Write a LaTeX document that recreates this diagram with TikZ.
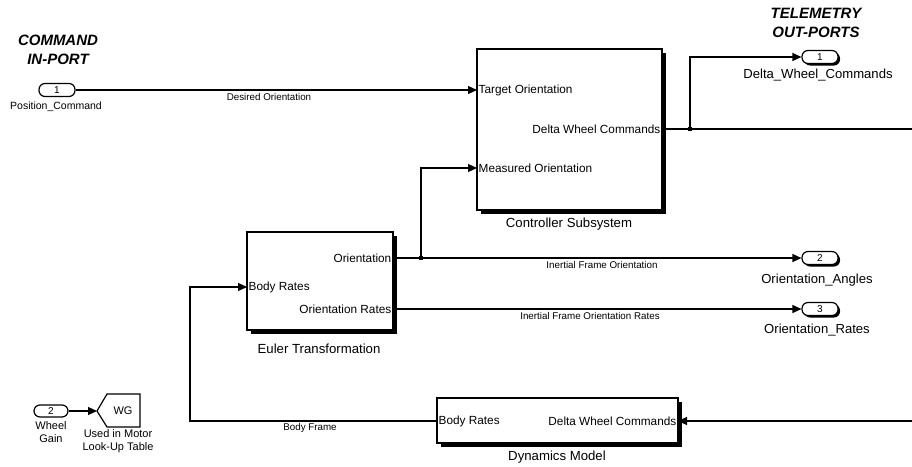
\documentclass[tikz,border=0pt]{standalone}
\usepackage{fontspec}
\setmainfont{Liberation Sans}
\usetikzlibrary{arrows.meta,shadows,positioning}

\begin{document}
\begin{tikzpicture}[x=1pt,y=-1pt,
		block/.style={draw,line width=1.2pt,fill=white,inner sep=0pt,
			drop shadow={shadow xshift=4pt,shadow yshift=-4pt,fill=black,opacity=1}},
		port/.style={draw,line width=1.2pt,fill=white,rounded corners=6pt,minimum width=36pt,minimum height=13pt,inner sep=0pt,font=\fontsize{10}{11}\selectfont},
		outport/.style={port,drop shadow={shadow xshift=2pt,shadow yshift=-2pt,fill=black,opacity=1}},
		plabel/.style={font=\fontsize{11.8}{13}\selectfont,inner sep=1.5pt},
		bname/.style={font=\fontsize{13.2}{15}\selectfont,inner sep=0pt},
		sname/.style={font=\fontsize{11}{12.5}\selectfont,align=center,inner sep=0pt},
		oname/.style={font=\fontsize{13.1}{15}\selectfont,inner sep=0pt},
		slabel/.style={font=\fontsize{9.8}{11}\selectfont,inner sep=0pt},
		head/.style={font=\fontsize{15}{19}\selectfont\bfseries\itshape,align=center,inner sep=0pt},
		sig/.style={line width=1.2pt},
		arr/.style={line width=1.2pt,-{Triangle[length=9pt,width=8pt]}},
		dot/.style={fill=black,inner sep=0pt,minimum size=3.5pt}]
		
			\useasboundingbox (0,0) rectangle (912,466);
			
			\node[head] (hin) at (58,50)  {COMMAND\\IN-PORT};
			\node[head] (hout) at (816,23)  {TELEMETRY\\OUT-PORTS};
			
			\node[block,minimum width=185pt,minimum height=161pt] (ctrl) at (569.5,129.5) {};
			\node[block,minimum width=146pt,minimum height=98pt] (euler) at (320,281) {};
			\node[block,minimum width=241pt,minimum height=45pt] (dyn) at (557.5,420.5) {};
			
			\node[bname] (ctrln) at (569,224)  {Controller Subsystem};
			\node[bname] (eulern) at (319,349)  {Euler Transformation};
			\node[bname] (dynn) at (557,457)  {Dynamics Model};
			
			\node[port] (in1) at (57,90)  {1};
			\node[sname,font=\fontsize{10.5}{12}\selectfont] (in1n) at (56,107)  {Position\_Command};
			\node[port,minimum width=34pt,minimum height=12pt] (in2) at (51,411)  {2};
			\node[sname] (in2n) at (51,432)  {Wheel\\Gain};
			
			\node[outport] (out1) at (820,57)  {1};
			\node[oname] (out1n) at (818,75)  {Delta\_Wheel\_Commands};
			\node[outport] (out2) at (820,258)  {2};
			\node[oname] (out2n) at (817,280)  {Orientation\_Angles};
			\node[outport] (out3) at (820,309)  {3};
			\node[oname] (out3n) at (817,330)  {Orientation\_Rates};
			
			% goto tag
			\coordinate (wgtip) at (97,411);
			\draw[line width=1.2pt] (wgtip) -- (107,394) -- (140,394) -- (140,427) -- (107,427) -- cycle;
			\node[font=\fontsize{11}{12}\selectfont] (wg) at (123,411)  {WG};
			\node[sname] (wgn) at (118,441)  {Used in Motor\\Look-Up Table};
			
			% port texts
			\node[plabel,anchor=west] (cti) at (477,90)  {Target Orientation};
			\node[plabel,anchor=west] (cmi) at (477,168)  {Measured Orientation};
			\node[plabel,anchor=east] (cdo) at (662,129)  {Delta Wheel Commands};
			\node[plabel,anchor=east] (eoo) at (393,258)  {Orientation};
			\node[plabel,anchor=west] (ebi) at (247,287)  {Body Rates};
			\node[plabel,anchor=east] (ero) at (393,309)  {Orientation Rates};
			\node[plabel,anchor=west] (dbo) at (437,421)  {Body Rates};
			\node[plabel,anchor=east] (ddi) at (678,421)  {Delta Wheel Commands};
			
			\coordinate (rtop) at (912,129);
			\coordinate (rbot) at (912,421);
			\coordinate (lbot) at (190,421);
			\node[dot] (br1) at (690,129) {};
			\node[dot] (br2) at (421,258) {};
			
			\draw[arr] (in1) -- (cti.west);
			\draw[sig] (cdo.east) -- (rtop);
			\draw[arr] (br1.center) |- (out1.west);
			\draw[arr] (rbot) -- (ddi.east);
			\draw[arr] (dbo.west) -- (lbot) |- (ebi.west);
			\draw[arr] (eoo.east) -- (out2.west);
			\draw[arr] (br2.center) |- (cmi.west);
			\draw[arr] (ero.east) -- (out3.west);
			\draw[arr] (in2) -- (wgtip);
			
			\node[slabel] (l1) at (269,97)  {Desired Orientation};
			\node[slabel] (l2) at (602,265)  {Inertial Frame Orientation};
			\node[slabel] (l3) at (590,316)  {Inertial Frame Orientation Rates};
			\node[slabel] (l4) at (310,428)  {Body Frame};
			
		\end{tikzpicture}
\end{document}
